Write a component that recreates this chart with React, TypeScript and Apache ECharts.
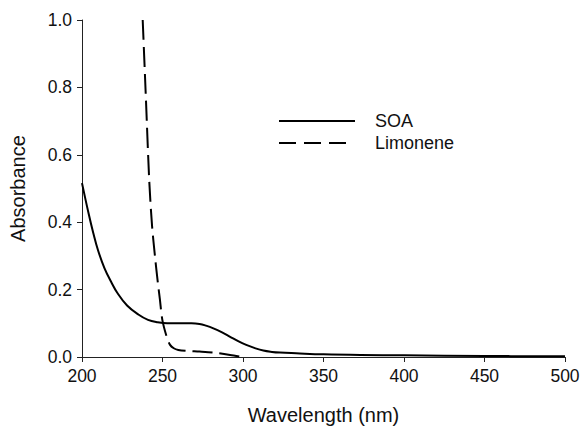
import React, { useEffect, useRef } from "react";
import * as echarts from "echarts";

const xTicks = [200, 250, 300, 350, 400, 450, 500];
const yTicks = [0, 0.2, 0.4, 0.6, 0.8, 1.0];

const soaWavelength = [200, 204, 207, 210, 214, 218, 222, 228, 235, 241, 247, 253, 261, 268, 273, 277, 281.6, 287, 292, 297, 302, 307, 312.6, 318, 323, 333, 350, 373, 400, 450, 500];
const soaAbs = [0.516, 0.428, 0.368, 0.316, 0.263, 0.224, 0.19, 0.153, 0.126, 0.11, 0.103, 0.1, 0.1, 0.1, 0.098, 0.093, 0.085, 0.073, 0.06, 0.047, 0.036, 0.027, 0.019, 0.015, 0.013, 0.011, 0.008, 0.006, 0.005, 0.003, 0.002];

const limWavelength = [237.7, 239.5, 241.8, 243.5, 245.3, 247, 248.4, 249.9, 252.6, 254.7, 257, 259.8, 265, 273, 281.6, 292, 299];
const limAbs = [1.0, 0.79, 0.52, 0.39, 0.3, 0.225, 0.17, 0.11, 0.06, 0.036, 0.026, 0.021, 0.018, 0.016, 0.013, 0.006, 0.0];

const legendNames = ["SOA", "Limonene"];
const xTitle = "Wavelength (nm)";
const yTitle = "Absorbance";

export default function App() {
  const ref = useRef<HTMLDivElement>(null);
  useEffect(() => {
    if (!ref.current) return;
    const chart = echarts.init(ref.current, undefined, { renderer: "svg" });
    const font = "Liberation Sans, Arial, sans-serif";
    chart.setOption({
      animation: false,
      backgroundColor: "#ffffff",
      grid: { left: 82, top: 20, right: 15, bottom: 70, containLabel: false, outerBoundsMode: "none" },
      xAxis: {
        type: "value",
        min: 200,
        max: 500,
        interval: 50,
        name: xTitle,
        nameLocation: "middle",
        nameGap: 48,
        nameTextStyle: { fontFamily: font, fontSize: 20, color: "#111", lineHeight: 20 },
        axisLine: { lineStyle: { color: "#222", width: 1 } },
        axisTick: { show: true, length: 5, lineStyle: { color: "#222" } },
        axisLabel: { fontFamily: font, fontSize: 17.5, color: "#111", margin: 10, formatter: (v: number) => (xTicks.includes(v) ? String(v) : "") },
        splitLine: { show: false },
      },
      yAxis: {
        type: "value",
        min: 0,
        max: 1,
        interval: 0.2,
        name: yTitle,
        nameLocation: "middle",
        nameGap: 54,
        nameTextStyle: { fontFamily: font, fontSize: 20, color: "#111", lineHeight: 20 },
        axisLine: { show: true, lineStyle: { color: "#222", width: 1 } },
        axisTick: { show: true, length: 5, lineStyle: { color: "#222" } },
        axisLabel: { fontFamily: font, fontSize: 17.5, color: "#111", margin: 10, formatter: (v: number) => {
          const t = yTicks.find((y) => Math.abs(y - v) < 1e-9);
          return t === undefined ? "" : t.toFixed(1);
        } },
        splitLine: { show: false },
      },
      series: [
        {
          name: legendNames[0],
          type: "line",
          data: soaWavelength.map((x, i) => [x, soaAbs[i]]),
          showSymbol: false,
          symbol: "none",
          smooth: 0.4,
          lineStyle: { color: "#000", width: 2 },
          z: 3,
        },
        {
          name: legendNames[1],
          type: "line",
          data: limWavelength.map((x, i) => [x, limAbs[i]]),
          showSymbol: false,
          symbol: "none",
          smooth: 0.3,
          lineStyle: { color: "#000", width: 2, type: [20, 7] },
          z: 3,
        },
      ],
      graphic: [
        { type: "line", shape: { x1: 279, y1: 121, x2: 355, y2: 121 }, style: { stroke: "#000", lineWidth: 2 } },
        { type: "line", shape: { x1: 279, y1: 143, x2: 348, y2: 143 }, style: { stroke: "#000", lineWidth: 2, lineDash: [17, 8] } },
        { type: "text", x: 375, y: 121, style: { text: legendNames[0], fontFamily: font, fontSize: 18, fill: "#111", verticalAlign: "middle" } },
        { type: "text", x: 375, y: 143, style: { text: legendNames[1], fontFamily: font, fontSize: 18, fill: "#111", verticalAlign: "middle" } },
      ],
    });
    return () => chart.dispose();
  }, []);
  return <div ref={ref} style={{ width: 580, height: 427, position: "absolute", left: 0, top: 0 }} />;
}
